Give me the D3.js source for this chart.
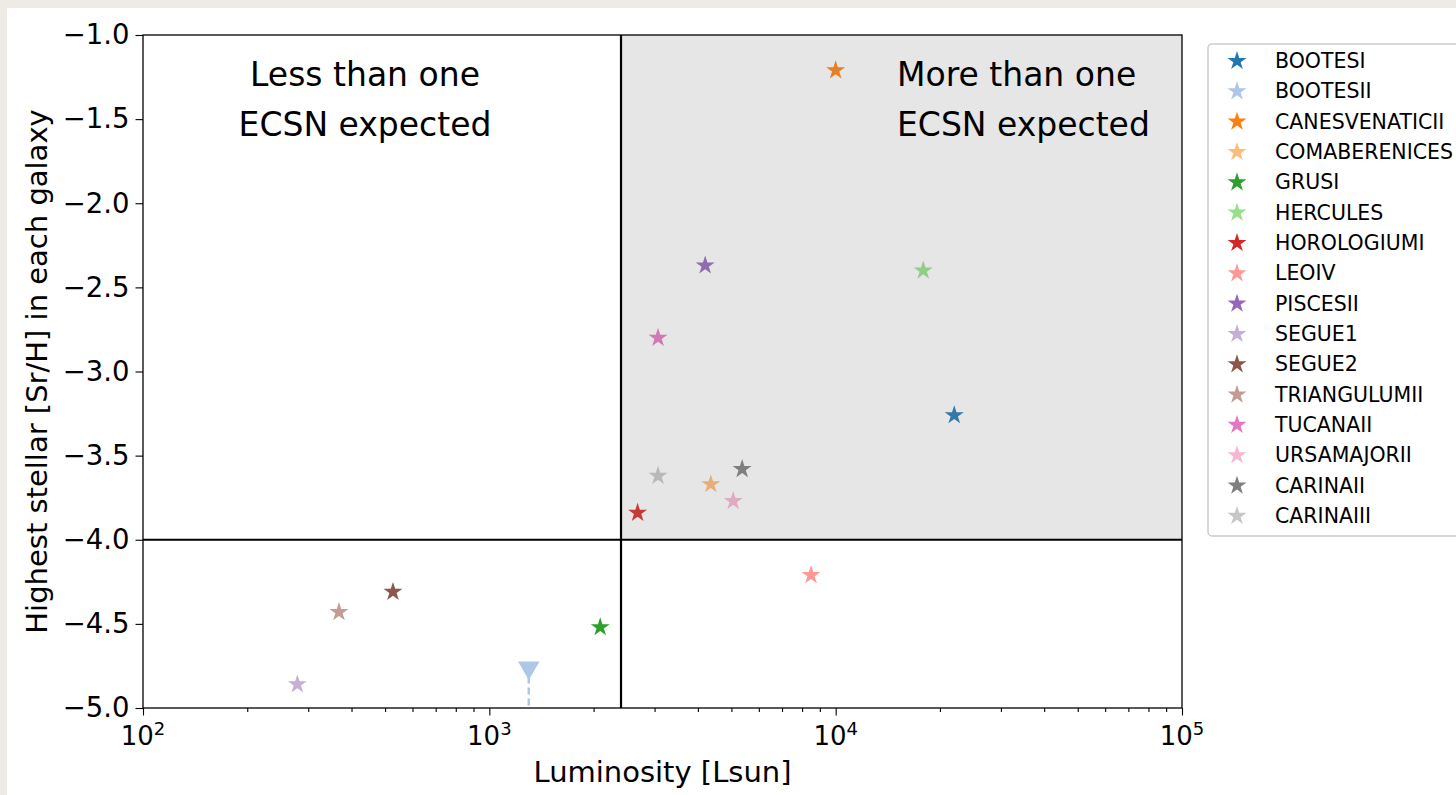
<!DOCTYPE html>
<html>
<head>
<meta charset="utf-8">
<script src="https://cdn.jsdelivr.net/npm/d3@7"></script>
<style>
  html, body { margin: 0; padding: 0; background: #eeebe7; }
  svg { display: block; font-family: "DejaVu Sans", sans-serif; }
</style>
</head>
<body>
<svg id="chart" width="1456" height="795"></svg>
<script>
// Galaxy names, luminosities [Lsun] and highest [Sr/H]
const galaxies = ["BOOTESI", "BOOTESII", "CANESVENATICII", "COMABERENICES", "GRUSI",
  "HERCULES", "HOROLOGIUMI", "LEOIV", "PISCESII", "SEGUE1", "SEGUE2",
  "TRIANGULUMII", "TUCANAII", "URSAMAJORII", "CARINAII", "CARINAIII"];
const luminosity = [22000, 1300, 10000, 4360, 2090, 17900, 2680, 8490, 4200,
  279, 527, 368, 3070, 5060, 5370, 3070];
const srH = [-3.26, -4.76, -1.21, -3.67, -4.52, -2.40, -3.84, -4.21, -2.37,
  -4.86, -4.31, -4.43, -2.80, -3.77, -3.58, -3.62];
// BOOTESII only has an upper limit
const upperLimit = [false, true, false, false, false, false, false, false, false,
  false, false, false, false, false, false, false];
const colors = ["#1f77b4", "#aec7e8", "#ff7f0e", "#ffbb78", "#2ca02c", "#98df8a",
  "#d62728", "#ff9896", "#9467bd", "#c5b0d5", "#8c564b", "#c49c94",
  "#e377c2", "#f7b6d2", "#7f7f7f", "#c7c7c7"];

// Threshold for one expected ECSN
const lumThreshold = 2400;
const srThreshold = -4.0;

const xTicks = [1e2, 1e3, 1e4, 1e5];
const xTickExp = ["2", "3", "4", "5"];
const yTicks = [-1.0, -1.5, -2.0, -2.5, -3.0, -3.5, -4.0, -4.5, -5.0];

const svg = d3.select("#chart");
const W = 1456, H = 795;
const m = { left: 143, right: 1182, top: 35, bottom: 708 };

// Figure canvas
svg.append("rect").attr("x", 7).attr("y", 8).attr("width", W - 7).attr("height", H - 8)
  .attr("fill", "#ffffff");

const x = d3.scaleLog().domain([1e2, 1e5]).range([m.left, m.right]);
const y = d3.scaleLinear().domain([-5, -1]).range([m.bottom, m.top]);

const data = galaxies.map((g, i) => ({
  name: g, lum: luminosity[i], sr: srH[i], lim: upperLimit[i], color: colors[i]
}));

const plot = svg.append("g");
const starSize = 112;
const star = d3.symbol().type(d3.symbolStar).size(starSize);
const tri = d3.symbol().type(d3.symbolTriangle).size(200);

// Upper-limit dashed line
data.filter(d => d.lim).forEach(d => {
  plot.append("line")
    .attr("x1", x(d.lum)).attr("x2", x(d.lum))
    .attr("y1", y(d.sr) + 9).attr("y2", y(-5))
    .attr("stroke", d.color).attr("stroke-width", 2.5)
    .attr("stroke-dasharray", "7,4");
});

plot.selectAll("path.pt").data(data).join("path")
  .attr("class", "pt")
  .attr("d", d => d.lim ? tri() : star())
  .attr("transform", d => `translate(${x(d.lum)},${y(d.sr)})` + (d.lim ? " rotate(180)" : ""))
  .attr("fill", d => d.color);

// Shaded quadrant: more than one ECSN expected
plot.append("rect")
  .attr("x", x(lumThreshold)).attr("y", y(-1))
  .attr("width", x(1e5) - x(lumThreshold))
  .attr("height", y(srThreshold) - y(-1))
  .attr("fill", "#808080").attr("fill-opacity", 0.2);

// Threshold lines
plot.append("line")
  .attr("x1", x(lumThreshold)).attr("x2", x(lumThreshold))
  .attr("y1", m.top).attr("y2", m.bottom)
  .attr("stroke", "#000").attr("stroke-width", 2.2);
plot.append("line")
  .attr("x1", m.left).attr("x2", m.right)
  .attr("y1", y(srThreshold)).attr("y2", y(srThreshold))
  .attr("stroke", "#000").attr("stroke-width", 2.2);

// Axes
const xAxis = svg.append("g").attr("transform", `translate(0,${m.bottom})`)
  .call(d3.axisBottom(x).tickValues(x.ticks()).tickSize(4).tickFormat(""));
xAxis.selectAll(".tick line").attr("stroke-width", 1.1);
xAxis.selectAll(".tick").filter(d => xTicks.includes(d)).select("line").attr("y2", 7.5);
xAxis.select(".domain").remove();

xTicks.forEach((v, i) => {
  const t = svg.append("text")
    .attr("x", x(v)).attr("y", 745)
    .attr("text-anchor", "middle")
    .attr("font-size", 26).attr("fill", "#000");
  t.append("tspan").text("10");
  t.append("tspan").attr("dy", -10).attr("font-size", 18).text(xTickExp[i]);
});

const yAxis = svg.append("g").attr("transform", `translate(${m.left},0)`)
  .call(d3.axisLeft(y).tickValues(yTicks).tickSize(7.5).tickPadding(6)
    .tickFormat(d => d3.format(".1f")(d).replace("-", "\u2212")));
yAxis.select(".domain").remove();
yAxis.selectAll(".tick line").attr("stroke-width", 1.1);
yAxis.selectAll(".tick text").attr("font-size", 27.5).attr("fill", "#000")
  .attr("font-family", "DejaVu Sans");

// Frame
svg.append("rect")
  .attr("x", m.left).attr("y", m.top)
  .attr("width", m.right - m.left).attr("height", m.bottom - m.top)
  .attr("fill", "none").attr("stroke", "#000").attr("stroke-width", 1.3);

// Axis titles
svg.append("text")
  .attr("x", (m.left + m.right) / 2).attr("y", 782)
  .attr("text-anchor", "middle").attr("font-size", 29)
  .text("Luminosity [Lsun]");
svg.append("text")
  .attr("transform", `translate(47,${(m.top + m.bottom) / 2}) rotate(-90)`)
  .attr("text-anchor", "middle").attr("font-size", 29)
  .text("Highest stellar [Sr/H] in each galaxy");

// Quadrant annotations
const ann1 = svg.append("text").attr("font-size", 33).attr("text-anchor", "middle");
ann1.append("tspan").attr("x", 365).attr("y", 86).text("Less than one");
ann1.append("tspan").attr("x", 365).attr("y", 136).text("ECSN expected");
const ann2 = svg.append("text").attr("font-size", 33).attr("text-anchor", "start");
ann2.append("tspan").attr("x", 897).attr("y", 86).text("More than one");
ann2.append("tspan").attr("x", 897).attr("y", 136).text("ECSN expected");

// Legend
const leg = svg.append("g");
leg.append("rect")
  .attr("x", 1208).attr("y", 44).attr("width", 300).attr("height", 492)
  .attr("rx", 4).attr("fill", "#fff").attr("stroke", "#cccccc").attr("stroke-width", 1.5);
const rowH = 30.33;
data.forEach((d, i) => {
  const yy = 61 + i * rowH;
  leg.append("path").attr("d", star())
    .attr("transform", `translate(1237,${yy})`).attr("fill", d.color);
  leg.append("text").attr("x", 1275).attr("y", yy + 7)
    .attr("font-size", 20.5).attr("fill", "#000").text(d.name);
});
</script>
</body>
</html>
